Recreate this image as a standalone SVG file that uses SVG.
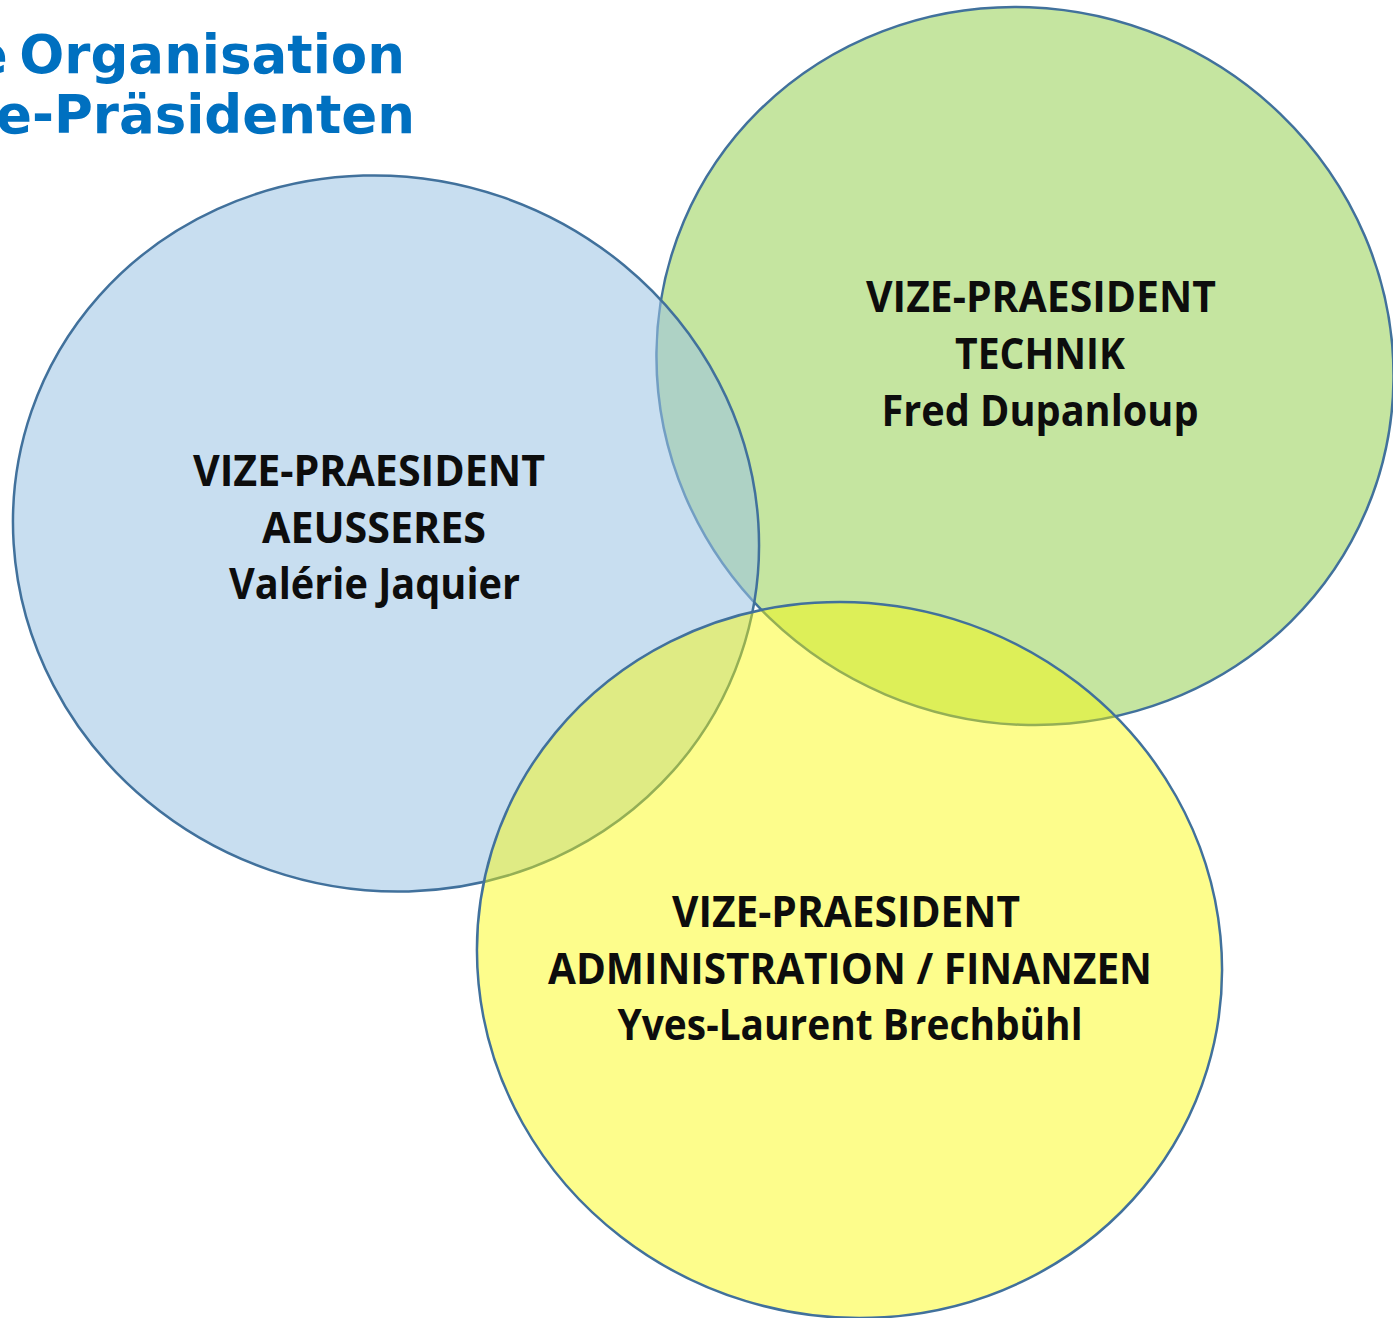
<svg xmlns="http://www.w3.org/2000/svg" width="1393" height="1318" viewBox="0 0 1393 1318">
<style>
.circ{stroke:#41719c;stroke-width:2.5}
.title{font-family:"DejaVu Sans",Verdana,sans-serif;font-weight:bold;font-size:53px;fill:#0070c0}
.lbl{font-family:"Open Sans","Noto Sans",sans-serif;font-weight:bold;font-size:43px;fill:#0d0d0d;text-anchor:middle}
</style>
<rect width="1393" height="1318" fill="#ffffff"/>
<g id="title">
<text class="title" x="405" y="73" text-anchor="end" word-spacing="-7">e Organisation</text>
<text class="title" x="415" y="133" text-anchor="end">e-Präsidenten</text>
</g>
<g id="connectors"></g>
<g id="node-technik">
<ellipse class="circ" cx="1025" cy="366" rx="370.6" ry="356.9" transform="rotate(23 1025 366)" fill="#c5e5a0"/>
</g>
<g id="node-aeusseres">
<ellipse class="circ" cx="386" cy="533.5" rx="375" ry="356" transform="rotate(19 386 533.5)" fill="#9bc3e4" fill-opacity="0.55"/>
</g>
<g id="node-admin">
<ellipse class="circ" cx="849.5" cy="960" rx="374" ry="356.5" transform="rotate(17 849.5 960)" fill="#fbfb00" fill-opacity="0.45"/>
</g>
<g id="labels">
<g id="label-aeusseres">
<text class="lbl" x="369" y="486" textLength="352" lengthAdjust="spacingAndGlyphs">VIZE-PRAESIDENT</text>
<text class="lbl" x="374" y="543" textLength="224" lengthAdjust="spacingAndGlyphs">AEUSSERES</text>
<text class="lbl" x="374.5" y="599" textLength="291" lengthAdjust="spacingAndGlyphs">Valérie Jaquier</text>
</g>
<g id="label-technik">
<text class="lbl" x="1041" y="312" textLength="350" lengthAdjust="spacingAndGlyphs">VIZE-PRAESIDENT</text>
<text class="lbl" x="1040" y="369" textLength="170" lengthAdjust="spacingAndGlyphs">TECHNIK</text>
<text class="lbl" x="1040" y="426" textLength="317" lengthAdjust="spacingAndGlyphs">Fred Dupanloup</text>
</g>
<g id="label-admin">
<text class="lbl" x="846" y="927" textLength="348" lengthAdjust="spacingAndGlyphs">VIZE-PRAESIDENT</text>
<text class="lbl" x="850" y="984" textLength="604" lengthAdjust="spacingAndGlyphs">ADMINISTRATION / FINANZEN</text>
<text class="lbl" x="850" y="1040" textLength="465" lengthAdjust="spacingAndGlyphs">Yves-Laurent Brechbühl</text>
</g>
</g>
</svg>
